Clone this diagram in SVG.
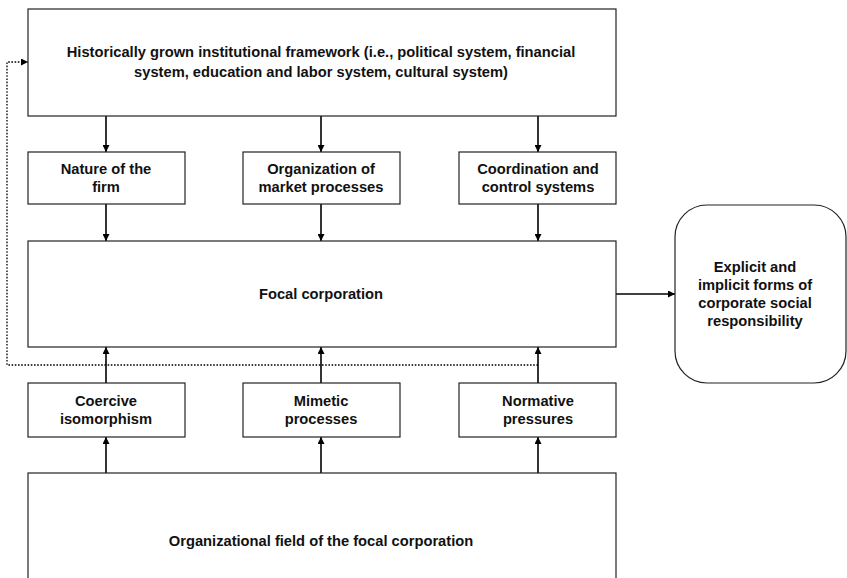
<svg xmlns="http://www.w3.org/2000/svg" width="847" height="578" viewBox="0 0 847 578">
<defs>
<style>
.box{fill:#fff;stroke:#222;stroke-width:1.2}
.t{font-family:"Liberation Sans",Arial,sans-serif;font-weight:bold;font-size:14.7px;fill:#111;text-anchor:middle}
.c{fill:none;stroke:#000;stroke-width:1.6}
.d{fill:none;stroke:#000;stroke-width:1.3;stroke-dasharray:1.6 1.6}
</style>
<marker id="ah" viewBox="0 0 10 10" refX="10" refY="5" markerWidth="7" markerHeight="7" markerUnits="userSpaceOnUse" orient="auto">
<path d="M0,0 L10,5 L0,10 z" fill="#000"/>
</marker>
</defs>
<rect width="847" height="578" fill="#fff"/>
<g id="connectors">
<path class="c" d="M106,116 V152" marker-end="url(#ah)"/>
<path class="c" d="M321,116 V152" marker-end="url(#ah)"/>
<path class="c" d="M538,116 V152" marker-end="url(#ah)"/>
<path class="c" d="M106,204 V241" marker-end="url(#ah)"/>
<path class="c" d="M321,204 V241" marker-end="url(#ah)"/>
<path class="c" d="M538,204 V241" marker-end="url(#ah)"/>
<path class="c" d="M106,383 V347" marker-end="url(#ah)"/>
<path class="c" d="M321,383 V347" marker-end="url(#ah)"/>
<path class="c" d="M538,383 V347" marker-end="url(#ah)"/>
<path class="c" d="M106,473 V437" marker-end="url(#ah)"/>
<path class="c" d="M321,473 V437" marker-end="url(#ah)"/>
<path class="c" d="M538,473 V437" marker-end="url(#ah)"/>
<path class="c" d="M616,294 H675" marker-end="url(#ah)"/>
<path class="d" d="M538,365 H7 V62 H28" marker-end="url(#ah)"/>
</g>
<g id="framework">
<rect class="box" x="28" y="9" width="588" height="107"/>
<text class="t" x="321" y="57">Historically grown institutional framework (i.e., political system, financial</text>
<text class="t" x="321" y="77">system, education and labor system, cultural system)</text>
</g>
<g id="nature">
<rect class="box" x="28" y="152" width="157" height="52"/>
<text class="t" x="106" y="174">Nature of the</text>
<text class="t" x="106" y="192">firm</text>
</g>
<g id="market">
<rect class="box" x="243" y="152" width="157" height="52"/>
<text class="t" x="321" y="174">Organization of</text>
<text class="t" x="321" y="192">market processes</text>
</g>
<g id="coordination">
<rect class="box" x="459" y="152" width="157" height="52"/>
<text class="t" x="538" y="174">Coordination and</text>
<text class="t" x="538" y="192">control systems</text>
</g>
<g id="focal">
<rect class="box" x="28" y="241" width="588" height="106"/>
<text class="t" x="321" y="299">Focal corporation</text>
</g>
<g id="csr">
<rect class="box" x="675" y="205" width="171" height="178" rx="32" ry="32"/>
<text class="t" x="755" y="272">Explicit and</text>
<text class="t" x="755" y="290">implicit forms of</text>
<text class="t" x="755" y="308">corporate social</text>
<text class="t" x="755" y="326">responsibility</text>
</g>
<g id="coercive">
<rect class="box" x="28" y="383" width="157" height="54"/>
<text class="t" x="106" y="406">Coercive</text>
<text class="t" x="106" y="424">isomorphism</text>
</g>
<g id="mimetic">
<rect class="box" x="243" y="383" width="157" height="54"/>
<text class="t" x="321" y="406">Mimetic</text>
<text class="t" x="321" y="424">processes</text>
</g>
<g id="normative">
<rect class="box" x="459" y="383" width="157" height="54"/>
<text class="t" x="538" y="406">Normative</text>
<text class="t" x="538" y="424">pressures</text>
</g>
<g id="field">
<rect class="box" x="28" y="473" width="588" height="120"/>
<text class="t" x="321" y="546">Organizational field of the focal corporation</text>
</g>
</svg>
